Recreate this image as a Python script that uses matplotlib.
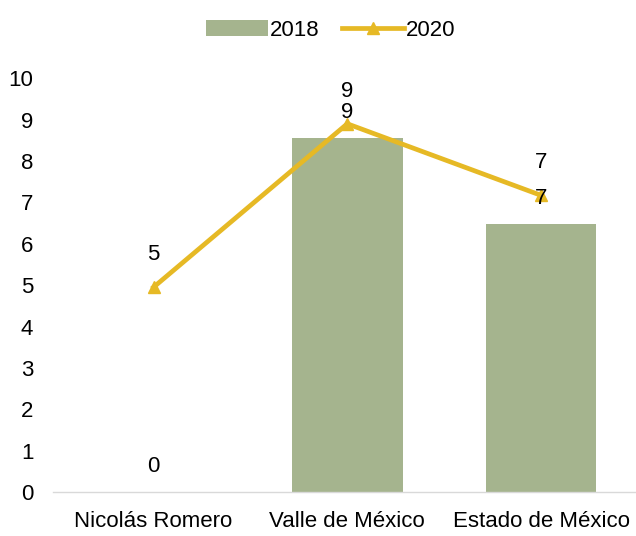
import numpy as np
import matplotlib.pyplot as plt

plt.rcParams['font.family'] = ['Liberation Sans', 'DejaVu Sans']

categories = ['Nicolás Romero', 'Valle de México', 'Estado de México']
values_2018 = [0, 8.55, 6.47]
values_2020 = [4.95, 8.9, 7.17]
labels_2018 = ['0', '9', '7']
labels_2020 = ['5', '9', '7']

bar_color = '#A5B48E'
line_color = '#E6B925'

fig = plt.figure(figsize=(6.36, 5.36), dpi=100)
ax = fig.add_axes([0.083, 0.082, 0.92, 0.772])

x = np.arange(len(categories))
bars = ax.bar(x, values_2018, width=0.57, color=bar_color, label='2018', zorder=2)
line, = ax.plot(x, values_2020, color=line_color, linewidth=3.4, marker='^',
                markersize=8, label='2020', zorder=3)

# data labels
for i in range(len(x)):
    ax.annotate(labels_2018[i], (x[i], values_2018[i]), xytext=(0, 11),
                textcoords='offset points', ha='center', va='bottom', fontsize=16)
    ax.annotate(labels_2020[i], (x[i], values_2020[i]), xytext=(0, 16),
                textcoords='offset points', ha='center', va='bottom', fontsize=16)

ax.set_xlim(-0.52, 2.5)
ax.set_ylim(0, 10)
ax.set_yticks(range(0, 11))
ax.set_xticks(x)
ax.set_xticklabels(categories)
ax.tick_params(axis='both', length=0, labelsize=16)
ax.tick_params(axis='y', pad=14)
ax.tick_params(axis='x', pad=14)

for s in ['top', 'right', 'left']:
    ax.spines[s].set_visible(False)
ax.spines['bottom'].set_color('#D9D9D9')
ax.spines['bottom'].set_linewidth(1)

fig.legend([bars, line], ['2018', '2020'], loc='upper center',
           bbox_to_anchor=(0.52, 1.0), ncol=2, frameon=False,
           fontsize=16, handlelength=2.8, handletextpad=0.1, columnspacing=1.0)

fig.savefig('out.png', dpi=100)
